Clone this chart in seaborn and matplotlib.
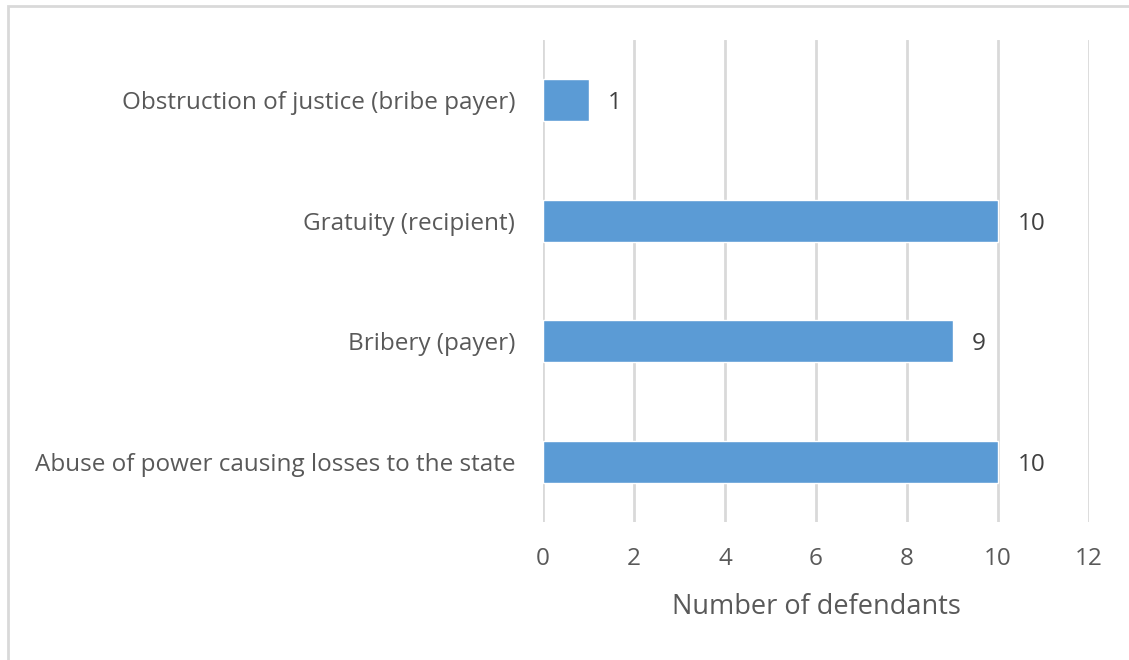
import matplotlib
matplotlib.use("Agg")
import matplotlib.pyplot as plt
import matplotlib.patches as patches
import seaborn as sns
import pandas as pd

categories = [
    "Obstruction of justice (bribe payer)",
    "Gratuity (recipient)",
    "Bribery (payer)",
    "Abuse of power causing losses to the state",
]
defendants = [1, 10, 9, 10]
x_ticks = [0, 2, 4, 6, 8, 10, 12]

df = pd.DataFrame({"offence": categories, "count": defendants})

sns.set_theme(style="white")
plt.rcParams["font.family"] = ["Open Sans", "DejaVu Sans"]

text_color = "#595959"
grid_color = "#d9d9d9"
bar_color = "#5b9bd5"

fig = plt.figure(figsize=(11.29, 6.60), dpi=100)
ax = fig.add_axes([0.481, 0.209, 0.4836, 0.7304])

sns.barplot(data=df, x="count", y="offence", orient="h", color=bar_color,
            saturation=1, width=0.35, ax=ax, zorder=3)

ax.set_xlim(0, 12)
ax.set_ylim(3.5, -0.5)
ax.set_xticks(x_ticks)
ax.set_xticklabels([str(t) for t in x_ticks])
ax.xaxis.grid(True, color=grid_color, linewidth=2, zorder=0)
ax.yaxis.grid(False)
for s in ax.spines.values():
    s.set_visible(False)
ax.tick_params(axis="x", length=0, pad=18, labelsize=17.5, labelcolor=text_color)
ax.tick_params(axis="y", length=0, pad=20, labelsize=17.5, labelcolor=text_color)
ax.set_ylabel("")
ax.set_xlabel("Number of defendants", fontsize=19.5, color=text_color, labelpad=16)

for i, v in enumerate(defendants):
    ax.annotate(str(v), xy=(v, i), xytext=(14, 0), textcoords="offset points",
                ha="left", va="center_baseline", fontsize=17.5, color="#404040")

# outer chart frame
fig.patches.append(patches.Rectangle((8 / 1129, -0.1), 1.2, 1 - 6 / 660 + 0.1,
                                     transform=fig.transFigure, fill=False,
                                     edgecolor=grid_color, linewidth=2))

fig.savefig("out.png", dpi=100)
